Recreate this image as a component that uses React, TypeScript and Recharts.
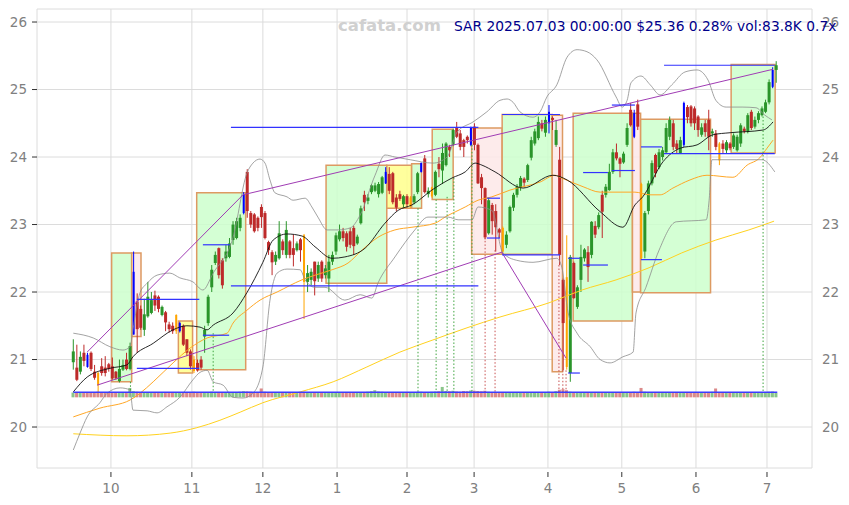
import React from "react";
import {
  ComposedChart,
  XAxis,
  YAxis,
  CartesianGrid,
  Bar,
  Line,
  ReferenceArea,
  ReferenceLine,
} from "recharts";

// daily candles [open, high, low, close], mid Sep 2024 .. 3 Jul 2025
const candles: [number, number, number, number][] = [
  [20.96, 21.3, 20.85, 21.12], [20.88, 21.22, 20.68, 20.7], [20.82, 21.12, 20.78, 21.04], [21.1, 21.22, 20.9, 20.98],
  [21.07, 21.1, 20.88, 20.89], [21.1, 21.12, 20.83, 20.86], [20.82, 20.92, 20.7, 20.73], [20.8, 20.82, 20.5, 20.62],
  [20.9, 21.02, 20.76, 20.8], [20.88, 21.05, 20.75, 20.8], [20.93, 20.95, 20.82, 20.86], [20.9, 21.03, 20.7, 20.72],
  [20.82, 20.83, 20.7, 20.72], [20.68, 21.0, 20.66, 20.86], [20.85, 21.0, 20.83, 20.92], [21.0, 21.1, 20.84, 20.86],
  [20.86, 21.25, 20.84, 21.2], [21.37, 22.6, 21.37, 22.3], [21.86, 21.98, 21.1, 21.45], [21.75, 21.8, 21.44, 21.47],
  [21.44, 21.9, 21.35, 21.67], [21.64, 22.15, 21.62, 21.93], [21.69, 22.0, 21.67, 21.88], [21.95, 22.02, 21.72, 21.8],
  [21.93, 21.95, 21.7, 21.75], [21.66, 21.8, 21.64, 21.78], [21.7, 21.72, 21.42, 21.55], [21.52, 21.56, 21.4, 21.45],
  [21.5, 21.55, 21.38, 21.42], [21.42, 21.67, 21.38, 21.66], [21.42, 21.56, 21.4, 21.54], [21.5, 21.52, 21.2, 21.22],
  [21.3, 21.3, 21.05, 21.1], [21.12, 21.15, 20.85, 20.9], [21.0, 21.05, 20.8, 20.83], [20.95, 21.0, 20.82, 20.84],
  [21.0, 21.05, 20.85, 20.88], [21.34, 21.5, 21.1, 21.44], [21.54, 21.96, 21.5, 21.93], [22.07, 22.4, 22.0, 22.33],
  [22.43, 22.6, 22.4, 22.55], [22.65, 22.66, 22.2, 22.25], [22.47, 22.5, 22.05, 22.1], [22.5, 22.7, 22.45, 22.6],
  [22.52, 22.8, 22.5, 22.72], [22.77, 23.05, 22.7, 23.0], [22.8, 23.1, 22.78, 23.05], [22.95, 23.15, 22.9, 23.1],
  [23.17, 23.48, 23.15, 23.45], [23.78, 23.82, 23.1, 23.2], [23.17, 23.2, 22.95, 23.0], [23.15, 23.17, 22.88, 22.9],
  [23.1, 23.12, 22.9, 22.95], [23.26, 23.3, 22.95, 23.11], [23.17, 23.2, 22.78, 22.8], [22.74, 22.76, 22.55, 22.62],
  [22.59, 22.62, 22.25, 22.44], [22.45, 22.6, 22.4, 22.55], [22.5, 23.05, 22.48, 22.87], [22.75, 22.78, 22.55, 22.62],
  [22.55, 23.05, 22.5, 22.92], [22.75, 22.77, 22.5, 22.55], [22.65, 22.85, 22.38, 22.55], [22.62, 22.75, 22.6, 22.72],
  [22.78, 22.8, 22.45, 22.62], [22.84, 22.86, 21.6, 22.15], [22.15, 22.4, 22.0, 22.28], [22.18, 22.35, 22.1, 22.3],
  [22.45, 22.45, 21.95, 22.16], [22.2, 22.45, 22.15, 22.4], [22.45, 22.47, 22.15, 22.2], [22.25, 22.4, 22.2, 22.35],
  [22.2, 22.55, 22.0, 22.45], [22.45, 22.6, 22.4, 22.55], [22.6, 22.88, 22.55, 22.84], [22.78, 23.0, 22.75, 22.9],
  [22.9, 22.95, 22.75, 22.8], [22.87, 22.9, 22.6, 22.67], [22.9, 22.95, 22.65, 22.7], [22.95, 22.98, 22.55, 22.68],
  [22.72, 22.85, 22.7, 22.82], [23.02, 23.28, 23.0, 23.24], [23.44, 23.5, 23.2, 23.33], [23.35, 23.45, 23.3, 23.4],
  [23.48, 23.6, 23.45, 23.58], [23.5, 23.62, 23.48, 23.58], [23.45, 23.63, 23.4, 23.6], [23.47, 23.72, 23.45, 23.7],
  [23.61, 23.85, 23.6, 23.78], [23.75, 23.85, 23.45, 23.5], [23.76, 23.78, 23.3, 23.33], [23.4, 23.45, 23.2, 23.25],
  [23.45, 23.5, 23.35, 23.38], [23.3, 23.44, 23.25, 23.42], [23.42, 23.45, 23.25, 23.3], [23.28, 23.42, 23.25, 23.4],
  [23.33, 23.45, 23.3, 23.42], [23.48, 23.78, 23.45, 23.76], [23.78, 23.92, 23.77, 23.91], [23.98, 24.03, 23.46, 23.48],
  [23.45, 23.55, 23.4, 23.5], [23.42, 23.56, 23.4, 23.55], [23.44, 23.8, 23.42, 23.78], [23.9, 24.0, 23.7, 23.82],
  [23.8, 24.2, 23.6, 24.06], [23.88, 24.22, 23.86, 24.2], [24.15, 24.18, 24.0, 24.1], [24.18, 24.42, 24.16, 24.4],
  [24.44, 24.52, 24.28, 24.3], [24.35, 24.4, 24.1, 24.15], [24.25, 24.27, 24.0, 24.15], [24.3, 24.32, 24.2, 24.25],
  [24.18, 24.45, 24.16, 24.43], [24.45, 24.5, 24.1, 24.18], [24.18, 24.2, 23.6, 23.61], [23.7, 23.75, 23.3, 23.54],
  [23.54, 23.55, 22.78, 22.81], [22.87, 23.4, 22.85, 23.36], [23.29, 23.32, 22.85, 23.05], [23.2, 23.3, 22.6, 22.96],
  [22.93, 22.95, 22.8, 22.88], [22.95, 22.97, 22.58, 22.6], [22.7, 22.9, 22.65, 22.85], [22.9, 23.28, 22.88, 23.26],
  [23.25, 23.47, 23.2, 23.44], [23.44, 23.6, 23.4, 23.56], [23.55, 23.72, 23.5, 23.69], [23.68, 23.7, 23.55, 23.62],
  [23.66, 23.9, 23.63, 23.88], [23.99, 24.3, 23.95, 24.25], [24.2, 24.42, 24.17, 24.38], [24.28, 24.6, 24.25, 24.52],
  [24.5, 24.55, 24.38, 24.42], [24.36, 24.6, 24.3, 24.55], [24.5, 24.77, 24.35, 24.67], [24.58, 24.6, 24.4, 24.55],
  [24.18, 24.55, 24.15, 24.4], [23.96, 24.15, 22.4, 22.55], [22.18, 22.2, 20.84, 21.54], [22.22, 22.84, 20.85, 20.89],
  [20.8, 22.55, 20.67, 22.52], [22.43, 22.45, 21.9, 21.91], [21.78, 22.1, 21.75, 22.07], [22.18, 22.7, 22.0, 22.52],
  [22.5, 22.65, 22.45, 22.63], [22.59, 22.68, 22.15, 22.37], [22.55, 23.05, 22.5, 23.04], [22.98, 23.05, 22.8, 22.85],
  [22.96, 23.18, 22.93, 23.14], [23.44, 23.5, 22.8, 23.19], [23.44, 23.6, 23.4, 23.56], [23.51, 23.9, 23.5, 23.78],
  [23.78, 24.12, 23.75, 24.07], [24.07, 24.2, 23.95, 23.98], [23.98, 24.0, 23.7, 23.9], [23.92, 24.08, 23.9, 24.05],
  [24.18, 24.5, 24.15, 24.43], [24.7, 24.8, 24.45, 24.47], [24.65, 24.7, 24.28, 24.3], [24.78, 24.85, 24.4, 24.45],
  [23.6, 23.62, 22.48, 22.5], [22.6, 23.2, 22.5, 23.17], [23.2, 23.65, 23.15, 23.61], [23.61, 23.95, 23.58, 23.91],
  [24.03, 24.05, 23.7, 23.76], [23.85, 24.12, 23.82, 24.07], [24.0, 24.15, 23.95, 24.1], [24.07, 24.5, 24.05, 24.43],
  [24.3, 24.6, 24.25, 24.55], [24.5, 24.55, 24.1, 24.15], [24.2, 24.25, 24.05, 24.12], [24.06, 24.3, 24.05, 24.25],
  [24.18, 24.82, 24.15, 24.8], [24.74, 24.77, 24.5, 24.59], [24.75, 24.77, 24.45, 24.5], [24.72, 24.75, 24.4, 24.5],
  [24.6, 24.62, 24.3, 24.4], [24.33, 24.5, 24.3, 24.44], [24.5, 24.55, 24.3, 24.37], [24.55, 24.7, 24.1, 24.3],
  [24.35, 24.42, 24.3, 24.38], [24.35, 24.4, 24.1, 24.15], [24.2, 24.22, 23.88, 23.95], [24.2, 24.25, 24.05, 24.12],
  [24.1, 24.25, 24.05, 24.22], [24.2, 24.22, 24.1, 24.13], [24.15, 24.35, 24.12, 24.32], [24.1, 24.33, 24.08, 24.3],
  [24.2, 24.5, 24.15, 24.47], [24.42, 24.45, 24.35, 24.38], [24.37, 24.65, 24.35, 24.62], [24.67, 24.7, 24.4, 24.43],
  [24.45, 24.6, 24.42, 24.55], [24.55, 24.68, 24.5, 24.65], [24.62, 24.75, 24.6, 24.72], [24.67, 24.85, 24.65, 24.81],
  [24.81, 25.15, 24.78, 25.11], [25.04, 25.33, 25.02, 25.29], [25.29, 25.42, 25.1, 25.36],
];

// candles drawn in signal colours
const blueBars = [4, 17, 30, 48, 88, 98, 112, 134, 158, 172, 197];
const orangeBars = [7, 29, 34, 65, 95, 101, 121, 139, 160, 182];

// volume, thousands
const volumes = [
  95, 100, 90, 85, 95, 100, 90, 110, 95, 90, 85, 95, 100, 90, 95, 100, 185,
  120, 110, 100, 95, 90, 100, 95, 90, 85, 95, 100, 90, 95, 100, 105, 95, 100,
  110, 95, 90, 100, 105, 110, 100, 95, 90, 100, 95, 100, 105, 110, 120, 115, 110,
  100, 105, 175, 110, 100, 95, 90, 100, 95, 90, 100, 95, 90, 100, 110, 95, 90,
  95, 100, 90, 95, 100, 90, 95, 100, 95, 90, 100, 95, 90, 100, 105, 110, 120,
  140, 115, 110, 105, 100, 95, 100, 95, 90, 100, 95, 100, 105, 110, 100, 95, 110,
  115, 120, 205, 125, 120, 130, 115, 110, 125, 120, 135, 130, 125, 120, 130, 110, 105,
  100, 95, 105, 100, 95, 90, 95, 100, 95, 90, 100, 95, 90, 100, 105, 110, 100,
  120, 150, 160, 140, 110, 100, 95, 90, 100, 95, 90, 100, 95, 90, 100, 95, 90,
  100, 95, 90, 100, 105, 110, 100, 185, 110, 100, 95, 90, 100, 95, 90, 100, 95,
  90, 100, 105, 100, 95, 90, 100, 95, 90, 100, 110, 175, 100, 95, 90, 100, 95,
  90, 100, 95, 90, 100, 95, 90, 100, 105, 110, 115, 85,
];

const monthTicks = [10.6, 33.4, 53.4, 74.3, 94.0, 112.9, 133.7, 154.5, 175.4, 195.4];
const monthLabels = ["10", "11", "12", "1", "2", "3", "4", "5", "6", "7"];
const priceTicks = [20, 21, 22, 23, 24, 25, 26];

// overlays, [bar index, price]
const maShort: [number, number][] = [
  [0, 20.52], [3.9, 20.74], [10.3, 20.87], [15.1, 20.92], [16.8, 21.04], [22.5, 21.24], [28.1, 21.44],
  [32, 21.5], [35.7, 21.48], [37.7, 21.44], [39.4, 21.51], [45, 21.69], [48.9, 21.99], [53.4, 22.44],
  [56.3, 22.77], [60.2, 22.86], [64.4, 22.83], [68.1, 22.67], [72.9, 22.5], [76.5, 22.52], [82.2, 22.65],
  [87.8, 23.02], [91.5, 23.21], [95.4, 23.29], [101, 23.51], [106.7, 23.69], [110.4, 23.78], [113.2, 23.91],
  [115.1, 23.88], [118.8, 23.78], [126.7, 23.54], [135.1, 23.73], [139.1, 23.66], [148.4, 23.19],
  [154.8, 22.96], [158.2, 23.29], [160.4, 23.41], [166.1, 23.93], [170.9, 24.13], [175.7, 24.18],
  [180.2, 24.33], [185, 24.36], [194.3, 24.4], [197.1, 24.52],
];
const maMid: [number, number][] = [
  [0, 20.15], [7.5, 20.28], [16, 20.4], [18.8, 20.5], [22.5, 20.67], [28.1, 20.95], [32.9, 21.17],
  [37.7, 21.32], [43.3, 21.39], [45, 21.54], [48.9, 21.73], [52.6, 21.88], [57.4, 22.0], [64.4, 22.18],
  [68.1, 22.25], [72.9, 22.33], [77.4, 22.43], [81.3, 22.62], [85.8, 22.81], [90.6, 22.92], [95.4, 22.96],
  [101.9, 23.02], [104.7, 23.11], [110.4, 23.26], [114, 23.36], [117.9, 23.41], [123, 23.51], [131.5, 23.63],
  [135.7, 23.73], [137.1, 23.7], [143.6, 23.56], [148.4, 23.48], [158.2, 23.48], [162.4, 23.44],
  [165.3, 23.44], [168.9, 23.54], [173.7, 23.66], [178.5, 23.73], [185.8, 23.7], [189.8, 23.88],
  [193.4, 23.99], [195.4, 24.13], [197.1, 24.25],
];
const maLong: [number, number][] = [
  [0, 19.9], [15.1, 19.87], [27.3, 19.91], [34.8, 19.99], [41.3, 20.1], [47, 20.22], [53.4, 20.36],
  [63.9, 20.52], [73.2, 20.67], [82.7, 20.89], [92, 21.11], [101.3, 21.29], [110.9, 21.47], [120.2, 21.63],
  [134, 21.84], [143.3, 22.03], [152.9, 22.18], [162.2, 22.36], [171.4, 22.58], [181, 22.77], [190.3, 22.92],
  [197.4, 23.05],
];
const bandUpper: [number, number][] = [
  [0, 21.39], [5.6, 21.32], [10.3, 21.19], [14, 21.14], [16, 21.19], [16.8, 21.44], [18.8, 21.99],
  [20.8, 22.13], [23.6, 22.25], [27.2, 22.28], [30, 22.21], [33.7, 22.15], [36.5, 22.03], [39.4, 22.28],
  [45, 22.81], [48.9, 23.76], [50.6, 23.91], [52.6, 23.97], [54, 23.91], [55.4, 23.66], [56.8, 23.47],
  [60.2, 23.41], [61.9, 23.36], [65.3, 23.39], [67.2, 23.26], [68.9, 23.11], [71.5, 22.92], [74.6, 22.92],
  [78, 22.95], [80.8, 23.14], [85, 23.73], [87.8, 24.03], [90.6, 24.0], [94.9, 23.96], [101.3, 23.91],
  [105.3, 24.0], [108.1, 24.37], [112.6, 24.52], [116.5, 24.67], [120.2, 24.84], [122.2, 24.86],
  [123.9, 24.81], [125.8, 24.67], [129.5, 24.59], [131.5, 24.67], [133.4, 24.89], [136.2, 25.07],
  [139.1, 25.48], [141.9, 25.59], [144.7, 25.56], [147.5, 25.44], [152.9, 24.89], [154.6, 24.74],
  [156, 24.84], [157.1, 25.1], [159.9, 25.2], [162.5, 25.07], [165.3, 24.92], [168.6, 25.07],
  [172.3, 25.26], [175.7, 25.29], [178.8, 25.14], [181, 24.84], [183.9, 24.74], [188.4, 24.74],
  [192.3, 24.73], [194.8, 24.62], [196.8, 24.55],
];
const bandLower: [number, number][] = [
  [0, 19.66], [1.9, 19.91], [3.9, 20.15], [7.5, 20.36], [9.5, 20.5], [13.2, 20.58], [16, 20.55],
  [16.8, 20.25], [20.8, 20.24], [23.6, 20.21], [26.4, 20.3], [30, 20.44], [33.7, 20.7], [35.7, 20.81],
  [37.7, 20.84], [39.4, 20.67], [42.2, 20.62], [45, 20.44], [47.8, 20.43], [50.6, 20.5], [53.4, 20.89],
  [55.4, 21.88], [57.4, 22.28], [60.2, 22.34], [63.9, 22.33], [65.3, 22.18], [68.1, 22.07], [70.9, 22.07],
  [76.5, 21.88], [80.8, 21.96], [84.1, 21.91], [85.8, 22.13], [90.6, 22.52], [93.4, 22.73], [96.2, 22.92],
  [99.9, 23.11], [105.6, 23.11], [108.4, 23.07], [112.3, 23.07], [114, 23.26], [117.9, 23.21], [121, 22.58],
  [124.9, 22.47], [129.5, 22.44], [136.2, 22.5], [137.6, 22.37], [139.4, 21.69], [141.9, 21.39],
  [145.6, 21.19], [148.4, 21.0], [151.2, 20.95], [154.8, 21.04], [157.7, 21.11], [158.5, 21.69],
  [161.3, 22.07], [165, 22.62], [169.8, 23.04], [178.3, 23.07], [179.1, 23.36], [179.9, 23.96],
  [186.7, 23.96], [194, 23.96], [197.6, 23.78],
];

// range boxes: [from, to, top, bottom, kind]
const boxes: [number, number, number, number, string][] = [
  [10.8, 16.45, 22.58, 20.67, "g"], [16.45, 19.07, 22.58, 21.34, "p"], [29.6, 33.6, 21.57, 20.8, "y"],
  [34.76, 48.56, 23.47, 20.85, "g"], [71.2, 88.3, 23.88, 22.13, "g"], [88.3, 95.3, 23.88, 23.24, "y"],
  [95.3, 98.1, 23.9, 23.24, "g"], [101.1, 107.0, 24.41, 23.37, "g"], [112.2, 120.8, 24.43, 22.56, "p"],
  [120.8, 134.9, 24.63, 22.56, "g"], [134.9, 137.8, 24.62, 20.82, "p"], [140.8, 157.5, 24.65, 21.57, "g"],
  [157.5, 159.8, 24.65, 22.0, "p"], [159.8, 179.5, 24.56, 21.99, "g"], [185.3, 197.7, 25.37, 24.06, "g"],
];

// level lines: [from, to, price]
const levels: [number, number, number][] = [
  [44.4, 114.1, 24.44], [44.4, 114.1, 22.09], [17.9, 35.5, 21.89], [17.9, 35.5, 20.87],
  [36.5, 44.1, 22.7], [36.5, 43.9, 21.36], [116.5, 120.2, 23.39], [116.5, 120.2, 22.8],
  [120.8, 137.1, 24.63], [120.8, 137.1, 22.55], [139.4, 142.7, 22.5], [139.4, 142.7, 20.8],
  [143.6, 150.6, 23.77], [143.6, 150.6, 22.4], [151.7, 158.2, 24.77], [151.7, 158.2, 23.8],
  [159.9, 165.8, 24.15], [159.9, 165.8, 22.48], [166.4, 197.6, 25.36], [166.4, 197.6, 24.05],
];

// trend lines: [x1, y1, x2, y2]
const trends: [number, number, number, number][] = [
  [3.9, 21.11, 47.8, 23.44], [47.8, 23.44, 197.1, 25.3], [6.7, 20.62, 120.7, 22.59], [120.7, 22.59, 138.8, 21.02],
];

// dotted drop lines: [index, price, colour]
const drops: [number, number, string][] = [
  [16.1, 20.67, "g"], [39.4, 21.39, "g"], [97.1, 23.24, "g"], [102.2, 23.37, "g"], [105.3, 23.41, "g"],
  [107.2, 23.69, "g"], [112.3, 24.18, "g"], [116, 22.81, "r"], [118.8, 22.62, "r"], [136.8, 22.4, "r"],
  [137.9, 20.84, "r"], [138.8, 20.84, "r"], [194.3, 24.6, "g"],
];

const X0 = -10.225;
const X1 = 208.08;
const Y0 = 19.393;
const Y1 = 26.193;
const VOL_BASE = 20.44;
const VOL_K = 0.00075;
const VOL_LINE = 20.515;

const UP = "#2a952a";
const DOWN = "#bd2a2a";
const BOX_FILL: Record<string, string> = { g: "#ccffcc", y: "#ffff8c", p: "#fde8e8" };

const rows = candles.map(([o, h, l, c], i) => ({
  i,
  o,
  h,
  l,
  c,
  v: volumes[i],
  kind: blueBars.includes(i) ? "b" : orangeBars.includes(i) ? "o" : c >= o ? "g" : "r",
}));

const pts = (arr: [number, number][]) => arr.map(([i, v]) => ({ i, v }));

const Candle = (props: any) => {
  const { x, y, width, height, payload } = props;
  if (!payload || !isFinite(y) || !isFinite(height)) return <g />;
  const top = Math.min(y, y + height);
  const bot = Math.max(y, y + height);
  const span = payload.h - payload.l || 1;
  const toY = (v: number) => bot - ((v - payload.l) / span) * (bot - top);
  const cx = x + width / 2;
  const color =
    payload.kind === "b" ? "#0000ff" : payload.kind === "o" ? "#ffa500" : payload.kind === "g" ? UP : DOWN;
  const bw = payload.kind === "b" || payload.kind === "o" ? 2 : 3;
  const yo = toY(payload.o);
  const yc = toY(payload.c);
  const bt = Math.min(yo, yc);
  const bh = Math.max(1, Math.abs(yc - yo));
  return (
    <g>
      <line x1={cx} x2={cx} y1={top} y2={bot} stroke={color} strokeWidth={1} />
      <rect x={cx - bw / 2} y={bt} width={bw} height={bh} fill={color} />
    </g>
  );
};

const VolBar = (props: any) => {
  const { x, y, width, height, payload } = props;
  if (!payload || !isFinite(y)) return <g />;
  const top = Math.min(y, y + height);
  const h = Math.abs(height);
  const color = payload.c >= payload.o ? UP : DOWN;
  return <rect x={x + width / 2 - 1.5} y={top} width={3} height={h} fill={color} fillOpacity={0.55} />;
};

const MonthTick = (props: any) => {
  const { x, y, payload } = props;
  const idx = monthTicks.indexOf(payload.value);
  return (
    <g>
      <line x1={x} x2={x} y1={y + 4} y2={y + 9} stroke="#333" strokeWidth={1} />
      <text x={x} y={y + 25} textAnchor="middle" fill="#808080" fontSize={13.5}>
        {monthLabels[idx]}
      </text>
    </g>
  );
};

export default function App() {
  return (
    <div
      style={{
        position: "absolute",
        left: 0,
        top: 0,
        width: 849,
        height: 505,
        background: "#fff",
        fontFamily: '"DejaVu Sans", sans-serif',
      }}
    >
      <ComposedChart width={849} height={505} data={rows} margin={{ top: 9, right: 0, bottom: 0, left: 0 }}>
        <CartesianGrid stroke="#dcdcdc" strokeWidth={1} />
        <XAxis
          dataKey="i"
          type="number"
          domain={[X0, X1]}
          ticks={monthTicks}
          interval={0}
          allowDataOverflow
          axisLine={false}
          tickLine={false}
          tickSize={0}
          tickMargin={0}
          height={37}
          tick={<MonthTick />}
        />
        <XAxis xAxisId="v" dataKey="i" type="number" domain={[X0, X1]} allowDataOverflow hide />
        <YAxis
          type="number"
          domain={[Y0, Y1]}
          ticks={priceTicks}
          allowDataOverflow
          width={37}
          axisLine={false}
          tickLine={{ stroke: "#333" }}
          tickSize={5}
          tickMargin={5}
          tick={{ fill: "#808080", fontSize: 13.5 }}
        />
        <YAxis
          yAxisId="r"
          orientation="right"
          type="number"
          domain={[Y0, Y1]}
          ticks={priceTicks}
          allowDataOverflow
          width={37}
          axisLine={false}
          tickLine={false}
          tickSize={5}
          tickMargin={5}
          tick={{ fill: "#808080", fontSize: 13.5 }}
        />

        {boxes.map(([a, b, t, bt, k], n) => (
          <ReferenceArea
            key={"box" + n}
            x1={a}
            x2={b}
            y1={bt}
            y2={t}
            fill={BOX_FILL[k]}
            fillOpacity={0.85}
            stroke="#dd9a62"
            strokeWidth={1.5}
          />
        ))}

        <Bar
          xAxisId="v"
          dataKey={(d: any) => [VOL_BASE, VOL_BASE + d.v * VOL_K]}
          barSize={3}
          shape={<VolBar />}
          isAnimationActive={false}
        />

        <Line data={pts(maLong)} dataKey="v" type="monotone" dot={false} activeDot={false} stroke="#ffd21f" strokeWidth={1} isAnimationActive={false} />
        <Line data={pts(maMid)} dataKey="v" type="monotone" dot={false} activeDot={false} stroke="#ffa726" strokeWidth={1} isAnimationActive={false} />
        <Line data={pts(bandUpper)} dataKey="v" type="monotone" dot={false} activeDot={false} stroke="#8c8c8c" strokeWidth={0.8} isAnimationActive={false} />
        <Line data={pts(bandLower)} dataKey="v" type="monotone" dot={false} activeDot={false} stroke="#8c8c8c" strokeWidth={0.8} isAnimationActive={false} />
        <Line data={pts(maShort)} dataKey="v" type="monotone" dot={false} activeDot={false} stroke="#111" strokeWidth={0.9} isAnimationActive={false} />

        {drops.map(([i, p, k], n) => (
          <ReferenceLine
            key={"drop" + n}
            segment={[{ x: i, y: p }, { x: i, y: VOL_LINE }]}
            stroke={k === "g" ? "#3fa43f" : "#c85050"}
            strokeDasharray="1.5 2"
            strokeWidth={1}
          />
        ))}

        <ReferenceLine segment={[{ x: 0, y: VOL_LINE }, { x: 198.3, y: VOL_LINE }]} stroke="#3b3bff" strokeWidth={1.5} />

        {trends.map(([a, p, b, q], n) => (
          <ReferenceLine key={"tr" + n} segment={[{ x: a, y: p }, { x: b, y: q }]} stroke="#a03cb4" strokeWidth={1} />
        ))}

        <Bar dataKey={(d: any) => [d.l, d.h]} barSize={3} shape={<Candle />} isAnimationActive={false} />

        {levels.map(([a, b, p], n) => (
          <ReferenceLine key={"lv" + n} segment={[{ x: a, y: p }, { x: b, y: p }]} stroke="#3232ff" strokeWidth={1.2} />
        ))}
      </ComposedChart>
      <svg width={849} height={505} style={{ position: "absolute", left: 0, top: 0, pointerEvents: "none" }}>
        <text x={338} y={31} fontSize={16.5} fontWeight="bold" fill="#d0d0d0">
          cafata.com
        </text>
        <text x={454} y={31} fontSize={13.8} fill="#00008b">
          SAR 2025.07.03 00:00:00 $25.36 0.28% vol:83.8K 0.7x
        </text>
      </svg>
    </div>
  );
}
